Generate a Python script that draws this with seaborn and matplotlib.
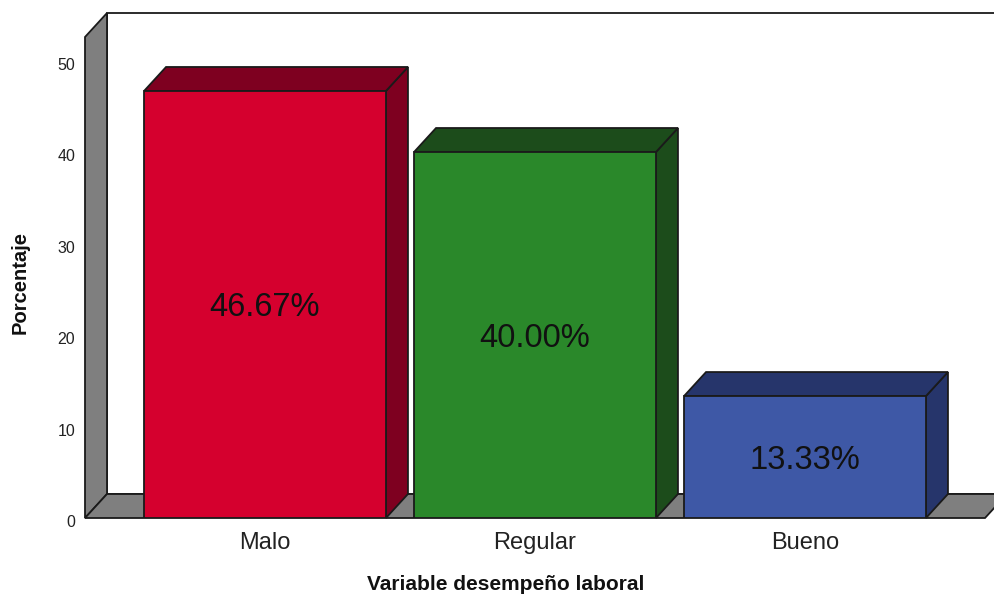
import matplotlib
matplotlib.use("Agg")
import matplotlib.pyplot as plt
from matplotlib.patches import Polygon, Rectangle
from matplotlib.transforms import ScaledTranslation
import seaborn as sns

# ---- data ----
categories = ["Malo", "Regular", "Bueno"]
values = [46.67, 40.00, 13.33]
value_labels = ["46.67%", "40.00%", "13.33%"]
front_colors = ["#D5002E", "#2A882A", "#3E58A6"]
dark_colors = ["#7E0020", "#1C4C1B", "#26356B"]
y_ticks = [0, 10, 20, 30, 40, 50]
x_title = "Variable desempeño laboral"
y_title = "Porcentaje"

sns.set_theme(style="white")
plt.rcParams["font.family"] = ["Liberation Sans", "DejaVu Sans"]

W, H, DPI = 995, 596, 100
fig = plt.figure(figsize=(W / DPI, H / DPI), dpi=DPI)
fig.patch.set_facecolor("white")

EDGE = "#1a1a1a"
GRAY = "#7F7F7F"
LW = 1.3

# axes = front frame of the 3D box (pixel geometry)
left_px, right_px = 85, 985
bottom_px, top_px = 518, 37
ax = fig.add_axes([left_px / W, (H - bottom_px) / H,
                   (right_px - left_px) / W, (bottom_px - top_px) / H])
ax.patch.set_visible(False)

XMIN, XMAX = -2 / 3, 8 / 3
YMAX = 52.57

# front faces via seaborn
sns.barplot(x=categories, y=values, hue=categories, palette=front_colors,
            order=categories, hue_order=categories, width=0.896, saturation=1,
            edgecolor=EDGE, linewidth=LW, legend=False, ax=ax, zorder=2)

ax.set_xlim(XMIN, XMAX)
ax.set_ylim(0, YMAX)

# depth offsets in data units
DX_PX, DY_PX = 22, 24
dx = DX_PX * (XMAX - XMIN) / (right_px - left_px)
dy = DY_PX * YMAX / (bottom_px - top_px)

# back wall, left wall, floor
ax.add_patch(Polygon([(XMIN + dx, dy), (XMAX + dx, dy), (XMAX + dx, YMAX + dy),
                      (XMIN + dx, YMAX + dy)], closed=True, facecolor="white",
                     edgecolor=EDGE, lw=LW, zorder=0.1, clip_on=False))
ax.add_patch(Polygon([(XMIN, 0), (XMIN + dx, dy), (XMIN + dx, YMAX + dy), (XMIN, YMAX)],
                     closed=True, facecolor=GRAY, edgecolor=EDGE, lw=LW,
                     zorder=0.2, clip_on=False))
ax.add_patch(Polygon([(XMIN, 0), (XMIN + dx, dy), (XMAX + dx, dy), (XMAX, 0)],
                     closed=True, facecolor=GRAY, edgecolor=EDGE, lw=LW,
                     zorder=0.3, clip_on=False))

bars = [p for p in ax.patches if isinstance(p, Rectangle) and p.get_height() > 0]
bars.sort(key=lambda p: p.get_x())
for bar, dark, lab in zip(bars, dark_colors, value_labels):
    x0 = bar.get_x()
    x1 = x0 + bar.get_width()
    v = bar.get_height()
    side = Polygon([(x1, 0), (x1 + dx, dy), (x1 + dx, v + dy), (x1, v)], closed=True,
                   facecolor=dark, edgecolor=EDGE, lw=LW, zorder=1.5, clip_on=False)
    top = Polygon([(x0, v), (x0 + dx, v + dy), (x1 + dx, v + dy), (x1, v)], closed=True,
                  facecolor=dark, edgecolor=EDGE, lw=LW, zorder=1.5, clip_on=False)
    ax.add_patch(side)
    ax.add_patch(top)
    ax.text((x0 + x1) / 2, v / 2, lab, ha="center", va="center", fontsize=23.5,
            color="#111111", zorder=3,
            transform=ax.transData + ScaledTranslation(0, -3 / DPI, fig.dpi_scale_trans))

for s in ax.spines.values():
    s.set_visible(False)

ax.set_yticks(y_ticks)
ax.set_yticklabels([str(t) for t in y_ticks])
ax.tick_params(axis="y", length=0, pad=7, labelsize=11.5, labelcolor="#222222")
ax.tick_params(axis="x", length=0, pad=10, labelsize=17, labelcolor="#222222")
for lbl in ax.get_yticklabels():
    lbl.set_transform(lbl.get_transform() + ScaledTranslation(0, -3 / DPI, fig.dpi_scale_trans))

ax.set_xlabel(x_title, fontsize=15, fontweight="bold", color="#111111")
ax.xaxis.set_label_coords((506 - left_px) / (right_px - left_px),
                          (bottom_px - 590) / (bottom_px - top_px))
ax.xaxis.label.set_va("baseline")
ax.set_ylabel(y_title, fontsize=14.5, fontweight="bold", color="#111111")
ax.yaxis.label.set_va("center")
ax.yaxis.set_label_coords((20 - left_px) / (right_px - left_px),
                          (bottom_px - 283) / (bottom_px - top_px))

fig.savefig("out.png", dpi=DPI)
